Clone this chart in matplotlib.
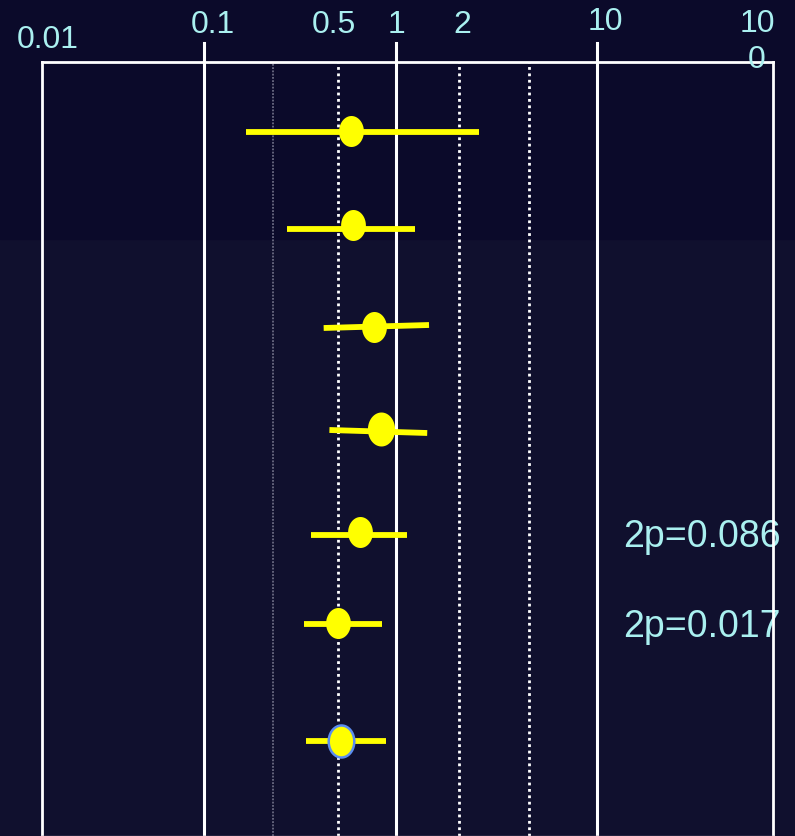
import numpy as np
import matplotlib
matplotlib.use('Agg')
import matplotlib.pyplot as plt
from matplotlib.path import Path
from matplotlib.patches import Rectangle
from matplotlib.transforms import blended_transform_factory

# odds ratios with confidence intervals, one per row (top to bottom)
estimates = [0.58, 0.60, 0.77, 0.84, 0.65, 0.50, 0.52]
ci_low = [0.165, 0.27, 0.42, 0.45, 0.36, 0.33, 0.34]
ci_high = [2.6, 1.24, 1.46, 1.43, 1.13, 0.85, 0.89]

# row placement (axis units, 0 = top of the box)
row_y = [0.69, 1.63, 2.65, 3.67, 4.70, 5.61, 6.79]
ci_y_left = [0.70, 1.67, 2.66, 3.68, 4.73, 5.62, 6.79]
ci_y_right = [0.70, 1.67, 2.63, 3.71, 4.73, 5.62, 6.79]

tick_values = [0.01, 0.1, 0.5, 1, 2, 10, 100]
tick_labels = ['0.01', '0.1', '0.5', '1', '2', '10', '10\n0']
solid_refs = [0.1, 1, 10]
dotted_refs = [0.5, 2.05, 4.6]
faint_refs = [0.23]

p_texts = ['2p=0.086', '2p=0.017']
p_rows = [4.85, 5.75]

# the original axis is hand drawn: decades are not evenly spaced
decades = [0.01, 0.1, 1, 10, 100]
decade_px = [42, 204, 396, 597, 773]


def fwd(v):
    v = np.asarray(v, dtype=float)
    return np.interp(np.log10(np.clip(v, 1e-9, None)), np.log10(decades), decade_px)


def inv(p):
    return 10 ** np.interp(np.asarray(p, dtype=float), decade_px, np.log10(decades))


plt.rcParams['font.family'] = ['Liberation Sans', 'DejaVu Sans']
text_col = '#aaf0f0'
yellow = '#ffff00'

fig = plt.figure(figsize=(7.95, 8.36), dpi=100)
fig.patch.set_facecolor('#10102e')
fig.patches.append(Rectangle((0, 597 / 836), 1, 239 / 836, transform=fig.transFigure,
                             color='#0b0a2a', zorder=-10))

ax = fig.add_axes([42 / 795, 0, 731 / 795, 774 / 836])
ax.set_zorder(1)
ax.set_facecolor('none')
ax.set_xscale('function', functions=(fwd, inv))
ax.set_xlim(0.01, 100)
ax.set_ylim(7.74, 0)
ax.set_xticks([])
ax.set_yticks([])
ax.xaxis.set_minor_locator(matplotlib.ticker.NullLocator())

for s in ['left', 'top', 'right']:
    ax.spines[s].set_color('white')
    ax.spines[s].set_linewidth(2)
ax.spines['bottom'].set_color('#707088')
ax.spines['bottom'].set_linewidth(1)

# reference lines
for v in solid_refs:
    ax.axvline(v, ymin=0, ymax=1.025, color='white', lw=2.2, clip_on=False, zorder=1)
for v in dotted_refs:
    ax.axvline(v, color='white', lw=2, linestyle=(0, (1, 1.3)), zorder=1)
for v in faint_refs:
    ax.axvline(v, color='#6a6a82', lw=1.3, linestyle=(0, (1, 0.8)), zorder=1)

# elliptical marker
t = np.linspace(0, 2 * np.pi, 60)
ellipse = Path(np.column_stack([0.8 * np.cos(t), np.sin(t)]), closed=True)
marker_px = [31, 31, 31, 34, 31, 31, 32]

for i in range(len(estimates)):
    ax.plot([ci_low[i], ci_high[i]], [ci_y_left[i], ci_y_right[i]], color=yellow,
            lw=4.2, solid_capstyle='butt', zorder=3)
    last = i == len(estimates) - 1
    ax.plot([estimates[i]], [row_y[i]], marker=ellipse, linestyle='none',
            ms=marker_px[i] * 0.72, color=yellow,
            mec='#5b8def' if last else yellow, mew=1.8 if last else 0, zorder=4)

# tick labels above the box
lab_tr = blended_transform_factory(ax.transData, ax.transAxes)
lab_dx = [4.3, 6.5, -3, 0, 4.3, 5.8, -11.5]
lab_dy = [10, 21, 21, 21, 21, 23, -4.3]
for v, lab, dx, dy in zip(tick_values, tick_labels, lab_dx, lab_dy):
    ax.annotate(lab, xy=(v, 1), xycoords=lab_tr, xytext=(dx, dy), textcoords='offset points',
                ha='center', va='baseline', fontsize=23, color=text_col,
                linespacing=1.25, annotation_clip=False)

for txt, yy in zip(p_texts, p_rows):
    ax.text(14, yy, txt, ha='left', va='baseline', fontsize=27, color=text_col,
            zorder=0, clip_on=False)

fig.savefig('out.png', dpi=100, facecolor=fig.get_facecolor())
